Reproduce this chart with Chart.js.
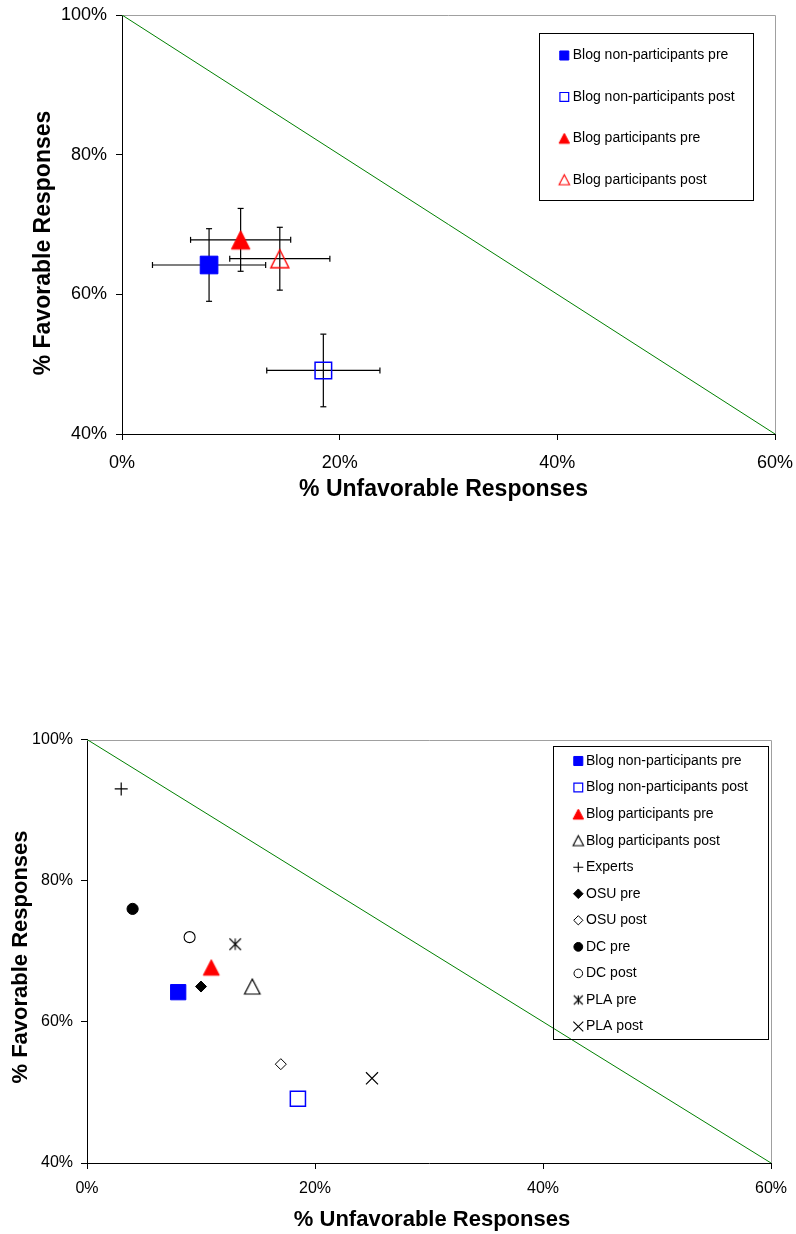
<!DOCTYPE html>
<html>
<head>
<meta charset="utf-8">
<title>Favorable vs unfavorable responses</title>
<script src="https://cdn.jsdelivr.net/npm/chart.js@4.4.1/dist/chart.umd.min.js"></script>
<style>
  html, body { margin: 0; padding: 0; background: #fff; }
  .page { position: relative; width: 796px; height: 1234px; overflow: hidden; }
  .chart-box { position: absolute; left: 0; width: 796px; }
  .chart-box canvas { display: block; }
  #topBox { top: 0; height: 520px; }
  #bottomBox { top: 700px; height: 534px; }
</style>
</head>
<body>
<div class="page">
  <div class="chart-box" id="topBox"><canvas id="topChart" width="796" height="520"></canvas></div>
  <div class="chart-box" id="bottomBox"><canvas id="bottomChart" width="796" height="534"></canvas></div>
</div>
<script>
// axis ticks (percent)
const xTicks = [0, 20, 40, 60];
const yTicks = [40, 60, 80, 100];

// green reference line: favorable + unfavorable = 100%
const diagX = [0, 60];
const diagY = [100, 40];

// top chart: blog groups with error bars
const topNames = ['Blog non-participants pre', 'Blog non-participants post', 'Blog participants pre', 'Blog participants post'];
const topX = [8.0, 18.5, 10.9, 14.5];
const topY = [64.2, 49.1, 67.8, 65.1];
const topErrX = [5.2, 5.2, 4.6, 4.6];
const topErrY = [5.2, 5.2, 4.5, 4.5];

// bottom chart: all groups
const bottomNames = ['Blog non-participants pre', 'Blog non-participants post', 'Blog participants pre', 'Blog participants post',
  'Experts', 'OSU pre', 'OSU post', 'DC pre', 'DC post', 'PLA pre', 'PLA post'];
const bottomX = [8.0, 18.5, 10.9, 14.5, 3, 10, 17, 4, 9, 13, 25];
const bottomY = [64.2, 49.1, 67.7, 65.0, 93, 65, 54, 76, 72, 71, 52];

Chart.defaults.font.family = '"Liberation Sans", Arial, Helvetica, sans-serif';
Chart.defaults.color = '#000';

const BLUE = '#0000ff';
const RED = '#ff0000';
const BLACK = '#000000';
const NONE = 'rgba(0,0,0,0)';

function triangleMarker(w, h, fill, stroke, lineWidth) {
  const pad = Math.ceil(lineWidth || 0) + 1;
  const c = document.createElement('canvas');
  c.width = Math.ceil(w) + pad * 2;
  c.height = Math.ceil(h) + pad * 2;
  const ctx = c.getContext('2d');
  const cx = c.width / 2;
  const cy = c.height / 2;
  ctx.beginPath();
  ctx.moveTo(cx, cy - h / 2);
  ctx.lineTo(cx + w / 2, cy + h / 2);
  ctx.lineTo(cx - w / 2, cy + h / 2);
  ctx.closePath();
  if (fill) { ctx.fillStyle = fill; ctx.fill(); }
  if (stroke) { ctx.strokeStyle = stroke; ctx.lineWidth = lineWidth; ctx.stroke(); }
  return c;
}

function starMarker(size, stroke, lineWidth) {
  const c = document.createElement('canvas');
  c.width = Math.ceil(size) + 4;
  c.height = Math.ceil(size) + 4;
  const ctx = c.getContext('2d');
  const cx = c.width / 2;
  const cy = c.height / 2;
  const s = size / 2;
  ctx.strokeStyle = stroke;
  ctx.lineWidth = lineWidth;
  ctx.beginPath();
  ctx.moveTo(cx - s, cy - s); ctx.lineTo(cx + s, cy + s);
  ctx.moveTo(cx + s, cy - s); ctx.lineTo(cx - s, cy + s);
  ctx.moveTo(cx, cy - s); ctx.lineTo(cx, cy + s);
  ctx.stroke();
  return c;
}

const topMarkers = [
  { style: 'rect', radius: 12.5, fill: BLUE, stroke: BLUE, width: 1, legendRadius: 6.4, legendWidth: 1 },
  { style: 'rect', radius: 11.7, fill: NONE, stroke: BLUE, width: 1.5, legendRadius: 6.2, legendWidth: 1.2 },
  { style: triangleMarker(18.5, 18.5, RED, RED, 1), legendStyle: triangleMarker(10.5, 10, RED, RED, 1) },
  { style: triangleMarker(18, 18, null, RED, 1.4), legendStyle: triangleMarker(10.5, 10, null, RED, 1.1) }
];

const bottomMarkers = [
  { style: 'rect', radius: 10.8, fill: BLUE, stroke: BLUE, width: 1, legendRadius: 6.4, legendWidth: 1 },
  { style: 'rect', radius: 10.7, fill: NONE, stroke: BLUE, width: 1.5, legendRadius: 6.2, legendWidth: 1.2 },
  { style: triangleMarker(16, 15.5, RED, RED, 1), legendStyle: triangleMarker(10.5, 10, RED, RED, 1) },
  { style: triangleMarker(15.5, 15, null, BLACK, 1.2), legendStyle: triangleMarker(10.5, 10, null, BLACK, 1.1) },
  { style: 'cross', radius: 6.5, fill: NONE, stroke: BLACK, width: 1.2, legendRadius: 5, legendWidth: 1.1 },
  { style: 'rectRot', radius: 5.5, fill: BLACK, stroke: BLACK, width: 1, legendRadius: 4.8, legendWidth: 1 },
  { style: 'rectRot', radius: 5.5, fill: NONE, stroke: BLACK, width: 1, legendRadius: 4.6, legendWidth: 1 },
  { style: 'circle', radius: 5.6, fill: BLACK, stroke: BLACK, width: 1, legendRadius: 4.4, legendWidth: 1 },
  { style: 'circle', radius: 5.5, fill: NONE, stroke: BLACK, width: 1.1, legendRadius: 4.3, legendWidth: 1 },
  { style: starMarker(11.5, BLACK, 1.1), legendStyle: starMarker(9, BLACK, 1.1) },
  { style: 'crossRot', radius: 8.5, fill: NONE, stroke: BLACK, width: 1.2, legendRadius: 7, legendWidth: 1.1 }
];

function seriesDataset(name, x, y, m) {
  const isImage = typeof m.style !== 'string';
  return {
    label: name,
    data: [{ x, y }],
    pointStyle: m.style,
    pointRadius: isImage ? 5 : m.radius,
    pointBackgroundColor: m.fill || NONE,
    pointBorderColor: m.stroke || NONE,
    pointBorderWidth: m.width || 0,
    legendStyle: m.legendStyle || m.style,
    legendRadius: m.legendRadius || 5,
    legendWidth: m.legendWidth || 0,
    legendFill: m.fill || NONE,
    legendStroke: m.stroke || NONE,
    order: 1
  };
}

function errorDatasets(x, y, ex, ey) {
  const common = {
    showLine: true,
    borderColor: BLACK,
    borderWidth: 1.2,
    pointStyle: 'line',
    pointRadius: 3,
    pointBorderColor: BLACK,
    pointBorderWidth: 1.2,
    pointBackgroundColor: BLACK,
    order: 2
  };
  return [
    { ...common, data: [{ x: x - ex, y }, { x: x + ex, y }], pointRotation: 90 },
    { ...common, data: [{ x, y: y - ey }, { x, y: y + ey }], pointRotation: 0 }
  ];
}

function diagonalDataset() {
  return {
    showLine: true,
    data: diagX.map((x, i) => ({ x, y: diagY[i] })),
    borderColor: '#008000',
    borderWidth: 1,
    pointRadius: 0,
    order: 3
  };
}

// gray top/right edge of the plot area
const plotFrame = {
  id: 'plotFrame',
  beforeDatasetsDraw(chart, args, opts) {
    const { ctx, chartArea: a } = chart;
    const top = Math.round(a.top) + 0.5;
    const right = Math.round(a.right) + 0.5;
    ctx.save();
    ctx.strokeStyle = opts.color;
    ctx.lineWidth = 1;
    ctx.beginPath();
    ctx.moveTo(a.left, top);
    ctx.lineTo(right, top);
    ctx.lineTo(right, a.bottom);
    ctx.stroke();
    ctx.restore();
  }
};

// boxed legend inside the plot
const boxLegend = {
  id: 'boxLegend',
  afterDatasetsDraw(chart, args, opts) {
    const ctx = chart.ctx;
    ctx.save();
    ctx.strokeStyle = '#000';
    ctx.lineWidth = 1;
    ctx.strokeRect(opts.left + 0.5, opts.top + 0.5, opts.width, opts.height);
    ctx.font = opts.font;
    ctx.textAlign = 'left';
    ctx.textBaseline = 'middle';
    chart.data.datasets.filter((ds) => ds.label).forEach((ds, i) => {
      const y = opts.firstRow + i * opts.rowGap;
      ctx.fillStyle = ds.legendFill;
      ctx.strokeStyle = ds.legendStroke;
      ctx.lineWidth = ds.legendWidth;
      Chart.helpers.drawPoint(ctx, {
        pointStyle: ds.legendStyle,
        radius: ds.legendRadius,
        borderWidth: ds.legendWidth,
        rotation: 0
      }, opts.markerX, y);
      ctx.fillStyle = '#000';
      ctx.fillText(ds.label, opts.textX, y);
    });
    ctx.restore();
  }
};

const axisTitles = {
  id: 'axisTitles',
  afterDraw(chart, args, opts) {
    const ctx = chart.ctx;
    ctx.save();
    ctx.fillStyle = '#000';
    ctx.font = opts.font;
    ctx.textAlign = 'center';
    ctx.textBaseline = 'middle';
    ctx.fillText(opts.xText, opts.xPos[0], opts.xPos[1]);
    ctx.translate(opts.yPos[0], opts.yPos[1]);
    ctx.rotate(-Math.PI / 2);
    ctx.fillText(opts.yText, 0, 0);
    ctx.restore();
  }
};

// keep the plot area exactly where the layout says, labels may overhang
function noOverhang(axis) {
  axis.paddingLeft = 0;
  axis.paddingRight = 0;
  axis.paddingTop = 0;
  axis.paddingBottom = 0;
}

function makeScales(layout) {
  return {
    x: {
      type: 'linear',
      min: 0,
      max: 60,
      afterBuildTicks: (axis) => { axis.ticks = xTicks.map((v) => ({ value: v })); },
      afterFit: (axis) => { axis.height = layout.xHeight; noOverhang(axis); },
      grid: { display: true, drawOnChartArea: false, drawTicks: true, tickLength: 6, color: '#000' },
      border: { display: true, color: '#000', width: 1 },
      ticks: {
        color: '#000',
        padding: layout.xPad,
        maxRotation: 0,
        autoSkip: false,
        font: { size: layout.tickSize },
        callback: (v) => v + '%'
      }
    },
    y: {
      type: 'linear',
      min: 40,
      max: 100,
      afterBuildTicks: (axis) => { axis.ticks = yTicks.map((v) => ({ value: v })); },
      afterFit: (axis) => { axis.width = layout.yWidth; noOverhang(axis); },
      grid: { display: true, drawOnChartArea: false, drawTicks: true, tickLength: 6, color: '#000' },
      border: { display: true, color: '#000', width: 1 },
      ticks: {
        color: '#000',
        padding: layout.yPad,
        autoSkip: false,
        font: { size: layout.tickSize },
        callback: (v) => v + '%'
      }
    }
  };
}

function drawChart(id, datasets, layout, legend, titles) {
  return new Chart(document.getElementById(id), {
    type: 'scatter',
    data: { datasets },
    plugins: [plotFrame, boxLegend, axisTitles],
    options: {
      responsive: false,
      devicePixelRatio: 1,
      animation: false,
      events: [],
      layout: { padding: { top: layout.top, right: layout.right, left: 0, bottom: 0 } },
      scales: makeScales(layout),
      plugins: {
        legend: { display: false },
        tooltip: { enabled: false },
        plotFrame: { color: '#a0a0a0' },
        boxLegend: legend,
        axisTitles: titles
      }
    }
  });
}

// top chart
const topDatasets = topNames.map((name, i) => seriesDataset(name, topX[i], topY[i], topMarkers[i]));
topNames.forEach((name, i) => {
  topDatasets.push(...errorDatasets(topX[i], topY[i], topErrX[i], topErrY[i]));
});
topDatasets.push(diagonalDataset());

drawChart('topChart', topDatasets,
  { top: 15, right: 21, yWidth: 122, xHeight: 86, tickSize: 18, xPad: 12, yPad: 9 },
  {
    left: 539, top: 33, width: 214, height: 167,
    markerX: 564.3, textX: 572.7, firstRow: 55.5, rowGap: 41.4,
    font: '14px "Liberation Sans", Arial, sans-serif'
  },
  {
    font: 'bold 23px "Liberation Sans", Arial, sans-serif',
    xText: '% Unfavorable Responses', xPos: [443.5, 490],
    yText: '% Favorable Responses', yPos: [44, 243]
  }
);

// bottom chart
const bottomDatasets = bottomNames.map((name, i) => seriesDataset(name, bottomX[i], bottomY[i], bottomMarkers[i]));
bottomDatasets.push(diagonalDataset());

drawChart('bottomChart', bottomDatasets,
  { top: 39.5, right: 25, yWidth: 87, xHeight: 71, tickSize: 16, xPad: 10, yPad: 8 },
  {
    left: 553, top: 46, width: 215, height: 293,
    markerX: 578.3, textX: 586, firstRow: 61, rowGap: 26.55,
    font: '14px "Liberation Sans", Arial, sans-serif'
  },
  {
    font: 'bold 22px "Liberation Sans", Arial, sans-serif',
    xText: '% Unfavorable Responses', xPos: [432, 519.6],
    yText: '% Favorable Responses', yPos: [21, 257]
  }
);
</script>
</body>
</html>
